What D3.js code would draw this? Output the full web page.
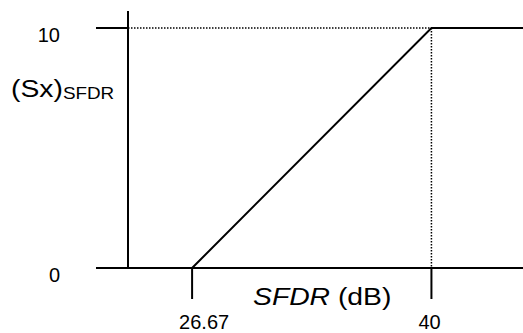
<!DOCTYPE html>
<html>
<head>
<meta charset="utf-8">
<script src="https://cdn.jsdelivr.net/npm/d3@7"></script>
<style>
  body { margin: 0; background: #fff; }
  svg { display: block; font-family: Arial, "Liberation Sans", sans-serif; }
</style>
</head>
<body>
<div class="container"></div>
<script>
// values
const sfdr = [26.67, 40, 45.1];
const sx = [0, 10, 10];
const xTicks = [26.67, 40];
const xTickLabels = ["26.67", "40"];
const yTicks = [0, 10];
const yTickLabels = ["0", "10"];

const width = 523, height = 333;

const svg = d3.select("div.container").append("svg")
    .attr("width", width)
    .attr("height", height);

// plot area
const x = d3.scaleLinear().domain([23.1, 45.1]).range([128, 523]);
const y = d3.scaleLinear().domain([0, 10]).range([268, 28]);
const axisTop = 11, tickLen = 32, xTickLen = 31;

//dotted guide lines to the knee
svg.append("line")
    .attr("x1", x.range()[0]).attr("x2", x(sfdr[1]))
    .attr("y1", y(sx[1])).attr("y2", y(sx[1]))
    .attr("stroke", "#000").attr("stroke-width", 1.5)
    .attr("stroke-dasharray", "1.5,1.5");
svg.append("line")
    .attr("x1", x(sfdr[1])).attr("x2", x(sfdr[1]))
    .attr("y1", y(sx[1])).attr("y2", y(0))
    .attr("stroke", "#000").attr("stroke-width", 1.5)
    .attr("stroke-dasharray", "1.5,1.5");

//axes
svg.append("line")
    .attr("x1", x.range()[0]).attr("x2", x.range()[0])
    .attr("y1", axisTop).attr("y2", y(0))
    .attr("stroke", "#000").attr("stroke-width", 2);
svg.append("line")
    .attr("x1", x.range()[0] - tickLen).attr("x2", x.range()[1])
    .attr("y1", y(0)).attr("y2", y(0))
    .attr("stroke", "#000").attr("stroke-width", 2);

//y ticks + labels
svg.selectAll("line.ytick")
    .data(yTicks)
    .enter()
    .append("line")
    .attr("class", "ytick")
    .attr("x1", x.range()[0] - tickLen).attr("x2", x.range()[0])
    .attr("y1", d => y(d)).attr("y2", d => y(d))
    .attr("stroke", "#000").attr("stroke-width", 2);
svg.selectAll("text.ylab")
    .data(yTicks)
    .enter()
    .append("text")
    .attr("class", "ylab")
    .attr("x", 60)
    .attr("y", d => y(d) + 14)
    .attr("text-anchor", "end")
    .style("font-size", "20px")
    .text((d, i) => yTickLabels[i]);

//x ticks + labels
svg.selectAll("line.xtick")
    .data(xTicks)
    .enter()
    .append("line")
    .attr("class", "xtick")
    .attr("x1", d => x(d)).attr("x2", d => x(d))
    .attr("y1", y(0)).attr("y2", y(0) + xTickLen)
    .attr("stroke", "#000").attr("stroke-width", 2);
svg.selectAll("text.xlab")
    .data(xTicks)
    .enter()
    .append("text")
    .attr("class", "xlab")
    .attr("x", d => x(d) - 13)
    .attr("y", 329)
    .style("font-size", "20px")
    .text((d, i) => xTickLabels[i]);

//the curve
const line = d3.line()
    .x(d => x(d[0]))
    .y(d => y(d[1]));
svg.append("path")
    .datum(sfdr.map((d, i) => [d, sx[i]]))
    .attr("d", line)
    .attr("fill", "none")
    .attr("stroke", "#000")
    .attr("stroke-width", 2);

//axis titles (stretched a bit horizontally like the original)
const yTitle = svg.append("g")
    .attr("transform", "translate(11,97) scale(1.18,1)")
    .append("text")
    .style("font-size", "24px");
yTitle.append("tspan").text("(Sx)");
yTitle.append("tspan").attr("dy", 2).style("font-size", "16px").text("SFDR");

const xTitle = svg.append("g")
    .attr("transform", "translate(253,305) scale(1.18,1)")
    .append("text")
    .style("font-size", "24px");
xTitle.append("tspan").style("font-style", "italic").text("SFDR");
xTitle.append("tspan").text(" (dB)");
</script>
</body>
</html>
